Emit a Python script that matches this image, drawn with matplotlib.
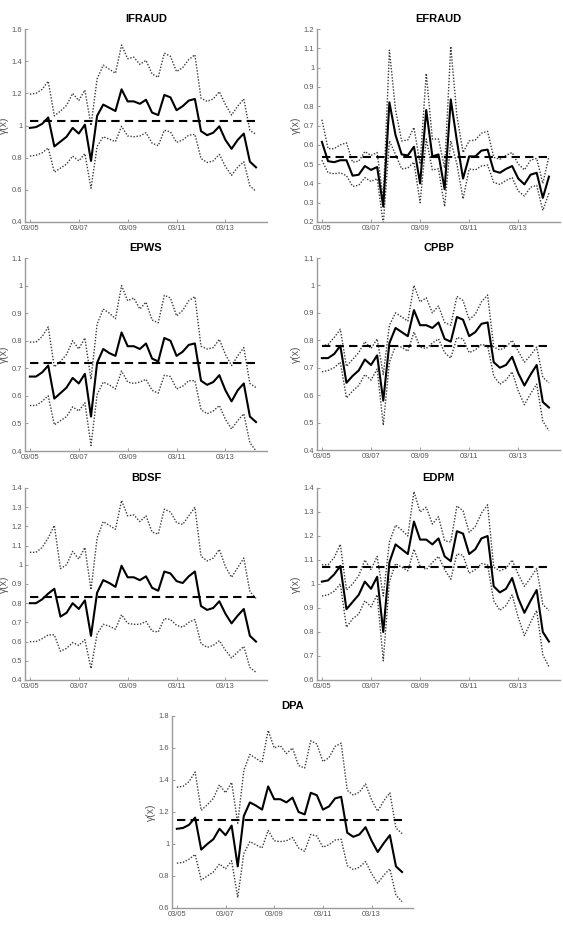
import numpy as np
import matplotlib
matplotlib.use("Agg")
import matplotlib.pyplot as plt

plt.rcParams['font.family'] = ['Liberation Sans', 'DejaVu Sans']

# quarterly index, ticks every 2 years
tick_pos = [0, 8, 16, 24, 32]
tick_labels = ["03/05", "03/07", "03/09", "03/11", "03/13"]

names = ["IFRAUD", "EFRAUD", "EPWS", "CPBP", "BDSF", "EDPM", "DPA"]

ifraud_mid = [0.985, 0.99, 1.01, 1.05, 0.87, 0.90, 0.93, 0.985, 0.95, 1.005, 0.78, 1.06, 1.13, 1.11, 1.09, 1.225, 1.15, 1.15, 1.135, 1.16,
              1.08, 1.065, 1.19, 1.175, 1.095, 1.12, 1.155, 1.165, 0.965, 0.94, 0.955, 0.995, 0.91, 0.855, 0.91, 0.95, 0.775, 0.74]
ifraud_up = [1.195, 1.20, 1.225, 1.275, 1.06, 1.09, 1.125, 1.20, 1.155, 1.22, 1.00, 1.29, 1.375, 1.35, 1.325, 1.50, 1.415, 1.425, 1.38, 1.405,
             1.32, 1.30, 1.45, 1.43, 1.335, 1.36, 1.41, 1.44, 1.17, 1.15, 1.165, 1.21, 1.13, 1.065, 1.12, 1.165, 0.97, 0.945]
ifraud_lo = [0.81, 0.815, 0.83, 0.86, 0.71, 0.735, 0.76, 0.81, 0.78, 0.825, 0.61, 0.87, 0.93, 0.915, 0.90, 0.995, 0.935, 0.93, 0.935, 0.955,
             0.89, 0.875, 0.97, 0.96, 0.895, 0.91, 0.94, 0.945, 0.795, 0.77, 0.78, 0.82, 0.745, 0.69, 0.74, 0.775, 0.625, 0.59]

efraud_mid = [0.615, 0.515, 0.51, 0.52, 0.52, 0.44, 0.445, 0.49, 0.47, 0.485, 0.28, 0.82, 0.65, 0.55, 0.545, 0.59, 0.40, 0.78, 0.54, 0.55,
              0.37, 0.835, 0.62, 0.425, 0.54, 0.54, 0.57, 0.575, 0.465, 0.455, 0.475, 0.49, 0.425, 0.395, 0.445, 0.455, 0.325, 0.435]
efraud_up = [0.73, 0.58, 0.58, 0.60, 0.61, 0.51, 0.515, 0.565, 0.545, 0.56, 0.32, 1.09, 0.78, 0.62, 0.625, 0.69, 0.50, 0.97, 0.63, 0.63,
             0.48, 1.11, 0.75, 0.56, 0.62, 0.625, 0.66, 0.67, 0.535, 0.525, 0.545, 0.56, 0.50, 0.47, 0.52, 0.53, 0.40, 0.54]
efraud_lo = [0.52, 0.455, 0.45, 0.455, 0.44, 0.385, 0.39, 0.43, 0.41, 0.425, 0.19, 0.62, 0.55, 0.475, 0.48, 0.51, 0.30, 0.63, 0.47, 0.475,
             0.28, 0.62, 0.50, 0.32, 0.475, 0.47, 0.49, 0.495, 0.405, 0.395, 0.415, 0.43, 0.36, 0.335, 0.38, 0.39, 0.26, 0.35]

epws_mid = [0.67, 0.67, 0.685, 0.71, 0.59, 0.61, 0.63, 0.665, 0.645, 0.68, 0.525, 0.72, 0.77, 0.755, 0.745, 0.83, 0.78, 0.78, 0.77, 0.79,
            0.735, 0.725, 0.81, 0.80, 0.745, 0.76, 0.785, 0.79, 0.655, 0.64, 0.65, 0.675, 0.62, 0.58, 0.62, 0.645, 0.525, 0.505]
epws_up = [0.795, 0.795, 0.815, 0.85, 0.705, 0.725, 0.75, 0.80, 0.77, 0.81, 0.66, 0.86, 0.915, 0.90, 0.88, 1.00, 0.945, 0.955, 0.915, 0.94,
           0.875, 0.865, 0.965, 0.955, 0.89, 0.91, 0.945, 0.96, 0.78, 0.77, 0.775, 0.805, 0.75, 0.71, 0.745, 0.775, 0.645, 0.63]
epws_lo = [0.565, 0.565, 0.58, 0.60, 0.495, 0.51, 0.525, 0.56, 0.545, 0.575, 0.42, 0.605, 0.65, 0.64, 0.625, 0.69, 0.65, 0.645, 0.65, 0.66,
           0.62, 0.61, 0.675, 0.67, 0.625, 0.635, 0.655, 0.655, 0.55, 0.535, 0.545, 0.565, 0.515, 0.48, 0.51, 0.535, 0.43, 0.40]

cpbp_mid = [0.735, 0.735, 0.75, 0.78, 0.645, 0.67, 0.69, 0.73, 0.71, 0.745, 0.58, 0.79, 0.845, 0.83, 0.815, 0.91, 0.855, 0.855, 0.845, 0.865,
            0.805, 0.795, 0.885, 0.875, 0.815, 0.83, 0.86, 0.865, 0.72, 0.70, 0.71, 0.74, 0.68, 0.635, 0.675, 0.71, 0.575, 0.555]
cpbp_up = [0.78, 0.785, 0.81, 0.84, 0.705, 0.73, 0.755, 0.795, 0.77, 0.805, 0.675, 0.855, 0.90, 0.885, 0.87, 1.00, 0.94, 0.955, 0.90, 0.925,
           0.865, 0.855, 0.96, 0.945, 0.875, 0.895, 0.94, 0.965, 0.775, 0.765, 0.775, 0.80, 0.76, 0.72, 0.745, 0.775, 0.665, 0.645]
cpbp_lo = [0.685, 0.69, 0.70, 0.72, 0.59, 0.615, 0.635, 0.675, 0.655, 0.695, 0.49, 0.72, 0.78, 0.775, 0.76, 0.83, 0.775, 0.77, 0.79, 0.805,
           0.755, 0.735, 0.81, 0.805, 0.755, 0.765, 0.785, 0.78, 0.67, 0.64, 0.655, 0.685, 0.615, 0.565, 0.605, 0.64, 0.505, 0.47]

bdsf_mid = [0.80, 0.80, 0.82, 0.85, 0.875, 0.73, 0.75, 0.80, 0.77, 0.815, 0.63, 0.855, 0.92, 0.905, 0.885, 0.995, 0.935, 0.935, 0.92, 0.94,
            0.88, 0.865, 0.965, 0.955, 0.915, 0.905, 0.94, 0.965, 0.785, 0.765, 0.775, 0.81, 0.745, 0.695, 0.735, 0.77, 0.63, 0.60]
bdsf_up = [1.065, 1.065, 1.09, 1.14, 1.205, 0.98, 1.00, 1.07, 1.03, 1.09, 0.87, 1.14, 1.225, 1.205, 1.185, 1.335, 1.255, 1.26, 1.225, 1.255,
           1.17, 1.16, 1.29, 1.275, 1.22, 1.21, 1.255, 1.30, 1.045, 1.02, 1.035, 1.08, 0.99, 0.935, 0.985, 1.035, 0.86, 0.825]
bdsf_lo = [0.60, 0.60, 0.615, 0.635, 0.635, 0.55, 0.565, 0.595, 0.58, 0.61, 0.46, 0.64, 0.69, 0.68, 0.665, 0.74, 0.695, 0.69, 0.69, 0.705,
           0.655, 0.65, 0.72, 0.715, 0.685, 0.675, 0.70, 0.715, 0.59, 0.57, 0.58, 0.605, 0.555, 0.515, 0.545, 0.575, 0.465, 0.44]

edpm_mid = [1.01, 1.015, 1.04, 1.075, 0.895, 0.925, 0.955, 1.01, 0.98, 1.03, 0.80, 1.09, 1.165, 1.145, 1.125, 1.26, 1.185, 1.185, 1.165, 1.19,
            1.115, 1.095, 1.22, 1.21, 1.125, 1.145, 1.19, 1.20, 0.99, 0.965, 0.98, 1.025, 0.94, 0.88, 0.93, 0.975, 0.80, 0.76]
edpm_up = [1.08, 1.08, 1.11, 1.165, 0.975, 1.00, 1.035, 1.10, 1.06, 1.115, 0.95, 1.175, 1.245, 1.225, 1.20, 1.385, 1.30, 1.32, 1.25, 1.28,
           1.18, 1.175, 1.325, 1.305, 1.215, 1.24, 1.295, 1.33, 1.07, 1.055, 1.065, 1.10, 1.04, 0.99, 1.025, 1.065, 0.915, 0.89]
edpm_lo = [0.95, 0.955, 0.97, 1.00, 0.82, 0.855, 0.875, 0.93, 0.905, 0.955, 0.68, 1.01, 1.085, 1.07, 1.055, 1.145, 1.075, 1.06, 1.09, 1.115,
           1.06, 1.02, 1.125, 1.12, 1.045, 1.06, 1.085, 1.08, 0.93, 0.89, 0.91, 0.955, 0.86, 0.785, 0.84, 0.89, 0.705, 0.655]

dpa_mid = [1.095, 1.10, 1.12, 1.165, 0.965, 1.00, 1.03, 1.095, 1.055, 1.115, 0.86, 1.175, 1.26, 1.24, 1.215, 1.36, 1.28, 1.28, 1.26, 1.29,
           1.20, 1.185, 1.32, 1.305, 1.215, 1.235, 1.285, 1.295, 1.07, 1.045, 1.06, 1.105, 1.02, 0.95, 1.005, 1.055, 0.86, 0.825]
dpa_up = [1.355, 1.36, 1.39, 1.45, 1.21, 1.245, 1.285, 1.37, 1.32, 1.385, 1.13, 1.46, 1.56, 1.535, 1.51, 1.71, 1.60, 1.615, 1.565, 1.60,
          1.49, 1.475, 1.645, 1.625, 1.515, 1.54, 1.61, 1.63, 1.335, 1.305, 1.325, 1.375, 1.275, 1.205, 1.27, 1.32, 1.10, 1.065]
dpa_lo = [0.88, 0.885, 0.905, 0.935, 0.775, 0.80, 0.825, 0.875, 0.845, 0.895, 0.665, 0.94, 1.015, 0.995, 0.975, 1.085, 1.02, 1.015, 1.02, 1.04,
          0.975, 0.955, 1.06, 1.05, 0.98, 0.995, 1.025, 1.03, 0.865, 0.84, 0.855, 0.89, 0.815, 0.755, 0.805, 0.845, 0.68, 0.64]

# dashed reference level per panel
levels = [1.03, 0.537, 0.72, 0.778, 0.83, 1.07, 1.15]

mids = [ifraud_mid, efraud_mid, epws_mid, cpbp_mid, bdsf_mid, edpm_mid, dpa_mid]
ups = [ifraud_up, efraud_up, epws_up, cpbp_up, bdsf_up, edpm_up, dpa_up]
los = [ifraud_lo, efraud_lo, epws_lo, cpbp_lo, bdsf_lo, edpm_lo, dpa_lo]

ylims = [(0.4, 1.6), (0.2, 1.2), (0.4, 1.1), (0.4, 1.1), (0.4, 1.4), (0.6, 1.4), (0.6, 1.8)]
ysteps = [0.2, 0.1, 0.1, 0.1, 0.1, 0.1, 0.2]

W, H = 563, 936
# axes boxes in pixels: left, top, right, bottom
boxes = [(25, 29, 267, 222), (317, 29, 560, 222),
         (25, 258, 267, 451), (317, 258, 560, 450),
         (25, 488, 267, 680), (317, 488, 560, 680),
         (172, 716, 413, 908)]

fig = plt.figure(figsize=(W / 100, H / 100), dpi=100)
gray = "#9a9a9a"
tcol = "#555555"

for k in range(7):
    l, t, r, b = boxes[k]
    ax = fig.add_axes([l / W, 1 - b / H, (r - l) / W, (b - t) / H])
    x = np.arange(len(mids[k]))
    ax.plot(x, ups[k], color="#3a3a3a", lw=1.0, dashes=(1, 1.2))
    ax.plot(x, los[k], color="#3a3a3a", lw=1.0, dashes=(1, 1.2))
    ax.plot(x, mids[k], '-', color="black", lw=1.5)
    ax.plot([x[0], x[-1]], [levels[k], levels[k]], '--', color="black", lw=1.5, dashes=(4, 2.5))
    ax.set_xlim(-0.8, 38.8)
    ax.set_ylim(*ylims[k])
    yt = np.round(np.arange(ylims[k][0], ylims[k][1] + 1e-9, ysteps[k]), 2)
    ax.set_yticks(yt)
    ax.set_yticklabels(["%g" % v for v in yt])
    ax.set_xticks(tick_pos)
    ax.set_xticklabels(tick_labels)
    for s in ["top", "right"]:
        ax.spines[s].set_visible(False)
    for s in ["left", "bottom"]:
        ax.spines[s].set_color(gray)
        ax.spines[s].set_linewidth(1.0)
    ax.tick_params(direction="in", length=2.5, width=0.7, color=gray, labelcolor=tcol, labelsize=5.4, pad=2)
    ax.set_title(names[k], fontsize=8, fontweight="bold", pad=5)
    ax.set_ylabel("γ(x)", fontsize=7.5, color=tcol, labelpad=2)

fig.savefig("out.png", dpi=100)
